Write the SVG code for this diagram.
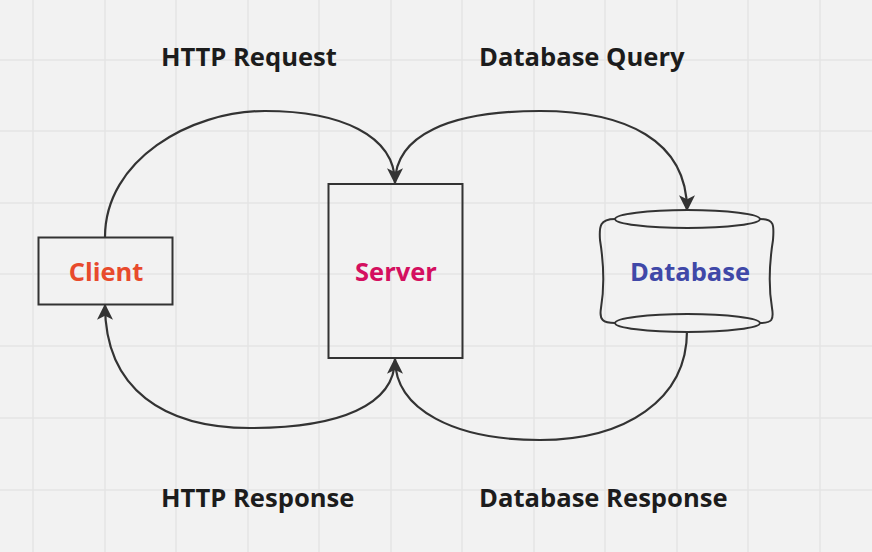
<svg xmlns="http://www.w3.org/2000/svg" width="872" height="552" viewBox="0 0 872 552">
<defs>
<style>
.grid line{stroke:#e4e4e4;stroke-width:1.5}
.box{fill:none;stroke:#333;stroke-width:2}
.conn path{fill:none;stroke:#333;stroke-width:2.2}
.lbl{font-family:"Open Sans","Noto Sans","Liberation Sans",sans-serif;font-weight:bold;font-size:25.6px;fill:#1c1c1c}
.node{font-family:"Open Sans","Noto Sans","Liberation Sans",sans-serif;font-weight:bold;font-size:25.5px;text-anchor:middle}
</style>
<marker id="ah2" viewBox="0 0 12 12" refX="11" refY="6" markerWidth="16" markerHeight="16" markerUnits="userSpaceOnUse" orient="auto">
<path d="M0,0 L12,6 L0,12 L3,6 Z" fill="#333"/>
</marker>
</defs>
<rect width="872" height="552" fill="#f2f2f2"/>
<g class="grid">
<line x1="33" y1="0" x2="33" y2="552"/><line x1="105" y1="0" x2="105" y2="552"/><line x1="176" y1="0" x2="176" y2="552"/><line x1="248" y1="0" x2="248" y2="552"/><line x1="319" y1="0" x2="319" y2="552"/><line x1="391" y1="0" x2="391" y2="552"/><line x1="462" y1="0" x2="462" y2="552"/><line x1="534" y1="0" x2="534" y2="552"/><line x1="605" y1="0" x2="605" y2="552"/><line x1="677" y1="0" x2="677" y2="552"/><line x1="748" y1="0" x2="748" y2="552"/><line x1="820" y1="0" x2="820" y2="552"/>
<line x1="0" y1="60" x2="872" y2="60"/><line x1="0" y1="131" x2="872" y2="131"/><line x1="0" y1="203" x2="872" y2="203"/><line x1="0" y1="274" x2="872" y2="274"/><line x1="0" y1="346" x2="872" y2="346"/><line x1="0" y1="418" x2="872" y2="418"/><line x1="0" y1="490" x2="872" y2="490"/>
</g>
<g class="conn">
<path d="M105,237 C105,160 190,111 265,111 C340,111 395,135 395,183" marker-end="url(#ah2)"/>
<path d="M395,183 C395,135 450,111 540,111 C625,111 687,140 687,210" marker-end="url(#ah2)"/>
<path d="M395,359 C395,405 340,428 250,428 C165,428 105,390 105,305" marker-end="url(#ah2)"/>
<path d="M687,331 C687,400 625,440 540,440 C455,440 395,410 395,359" marker-end="url(#ah2)"/>
</g>
<g id="client">
<rect class="box" x="38.5" y="237.5" width="134" height="67"/>
<text class="node" x="106" y="281" fill="#e84a2c">Client</text>
</g>
<g id="server">
<rect class="box" x="328.5" y="184" width="134" height="174"/>
<text class="node" x="396" y="281" fill="#d40f5f">Server</text>
</g>
<g id="database">
<path class="box" d="M615,219 C600,219 599,226 600,240 C604,265 604,290 601,308 C599,320 603,323 615,323"/>
<path class="box" d="M760,219 C775,219 774,226 773,240 C769,265 769,290 772,308 C774,320 772,323 760,323"/>
<ellipse class="box" cx="687.5" cy="219" rx="72.5" ry="9"/>
<ellipse class="box" cx="687.5" cy="323" rx="72.5" ry="9"/>
<text class="node" x="690" y="281" fill="#4048a8">Database</text>
</g>
<g id="labels">
<text class="lbl" x="161" y="66">HTTP Request</text>
<text class="lbl" x="479" y="66">Database Query</text>
<text class="lbl" x="161" y="507">HTTP Response</text>
<text class="lbl" x="479" y="507">Database Response</text>
</g>
</svg>
